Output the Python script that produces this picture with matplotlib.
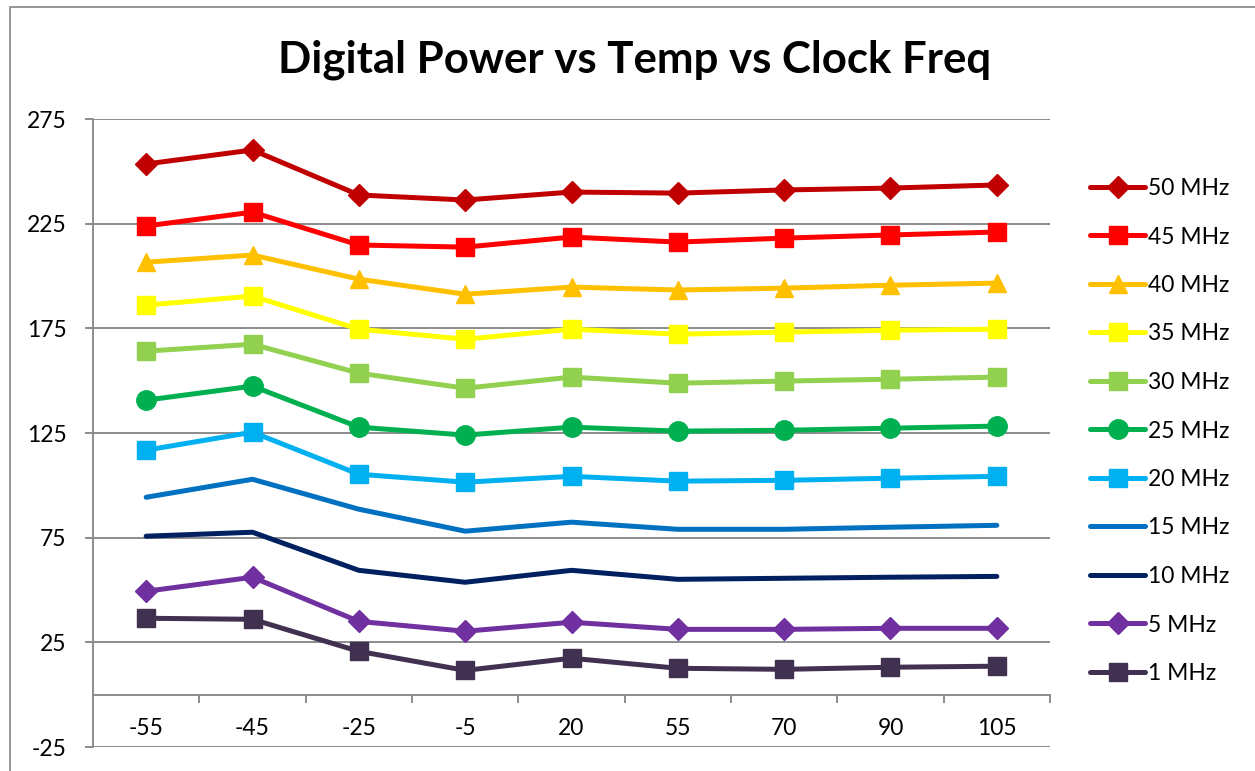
import numpy as np
import matplotlib
matplotlib.use("Agg")
import matplotlib.pyplot as plt
from matplotlib.patches import Rectangle

plt.rcParams["font.family"] = ["Lato", "DejaVu Sans"]
plt.rcParams["axes.unicode_minus"] = False

temps = ["-55", "-45", "-25", "-5", "20", "55", "70", "90", "105"]

p50 = [253.5, 260.2, 238.7, 236.3, 240.1, 239.6, 241.1, 242.0, 243.5]
p45 = [223.9, 230.5, 214.8, 213.8, 218.6, 216.2, 218.1, 219.6, 221.0]
p40 = [206.6, 210.0, 198.5, 191.3, 194.7, 193.3, 194.2, 195.6, 196.6]
p35 = [186.1, 190.4, 174.6, 169.8, 174.6, 172.2, 173.2, 174.1, 174.6]
p30 = [164.1, 167.4, 153.6, 146.4, 151.7, 148.8, 149.8, 150.7, 151.7]
p25 = [140.7, 147.4, 127.8, 124.0, 127.8, 125.9, 126.3, 127.3, 128.3]
p20 = [116.8, 125.4, 105.3, 101.5, 104.3, 102.0, 102.4, 103.4, 104.3]
p15 = [94.3, 102.9, 88.6, 78.1, 82.4, 79.0, 79.0, 80.0, 80.9]
p10 = [75.7, 77.6, 59.4, 53.7, 59.4, 55.1, 55.6, 56.1, 56.5]
p5 = [49.4, 56.1, 35.0, 30.3, 34.6, 31.2, 31.2, 31.7, 31.7]
p1 = [36.5, 36.0, 20.7, 11.6, 17.4, 12.6, 12.1, 13.1, 13.6]

labels = ["50 MHz", "45 MHz", "40 MHz", "35 MHz", "30 MHz", "25 MHz",
          "20 MHz", "15 MHz", "10 MHz", "5 MHz", "1 MHz"]
series = [p50, p45, p40, p35, p30, p25, p20, p15, p10, p5, p1]
colors = ["#C00000", "#FF0000", "#FFC000", "#FFFF00", "#92D050", "#00B050",
          "#00B0F0", "#0070C0", "#002060", "#7030A0", "#403151"]
markers = ["D", "s", "^", "s", "s", "o", "s", None, None, "D", "s"]
msizes = [11, 13.5, 13.5, 13.5, 13.5, 14, 13.5, 0, 0, 11, 13.5]

W, H = 1255, 771
fig = plt.figure(figsize=(W / 100, H / 100), dpi=100)
fig.patches.append(Rectangle((10 / W, -0.1), 1.2, (H - 7) / H + 0.1,
                             transform=fig.transFigure, fill=False,
                             edgecolor="#8C8C8C", lw=1.3))

ax = fig.add_axes([93 / W, 1 - 747 / H, 957 / W, 628 / H])
x = np.arange(len(temps))
for vals, lab, c, m, ms in zip(series, labels, colors, markers, msizes):
    ax.plot(x, vals, color=c, lw=3.6, marker=m, markersize=ms, label=lab,
            solid_joinstyle="round", solid_capstyle="round")

gray = "#8C8C8C"
ax.set_xlim(-0.5, len(temps) - 0.5)
ax.set_ylim(-25, 275)
ax.set_yticks(np.arange(-25, 276, 50))
ax.yaxis.grid(True, color=gray, lw=1.4)
ax.set_axisbelow(True)
for s in ["top", "right"]:
    ax.spines[s].set_visible(False)
for s in ["left", "bottom"]:
    ax.spines[s].set_color(gray)
    ax.spines[s].set_linewidth(1.4)
# category axis crosses at zero
ax.spines["bottom"].set_position(("data", 0))
ax.tick_params(axis="y", length=6, width=1.4, color=gray, pad=13, labelsize=16.5)
ax.set_xticks(x)
ax.set_xticklabels(temps)
ax.set_xticks(np.arange(0.5, len(temps), 1.0), minor=True)
ax.tick_params(axis="x", which="major", length=0, pad=17, labelsize=16.5)
ax.tick_params(axis="x", which="minor", length=6, width=1.4, color=gray)

fig.text(635 / W, 1 - 60 / H, "Digital Power vs Temp vs Clock Freq",
         ha="center", va="center", fontsize=31.5, fontweight="bold")

fig.legend(loc="upper left", bbox_to_anchor=(1090 / W, 1 - 178 / H),
           frameon=False, fontsize=16.5, handlelength=2.4, handletextpad=0.15,
           labelspacing=1.2, borderaxespad=0, borderpad=0)

fig.savefig("out.png", dpi=100)
